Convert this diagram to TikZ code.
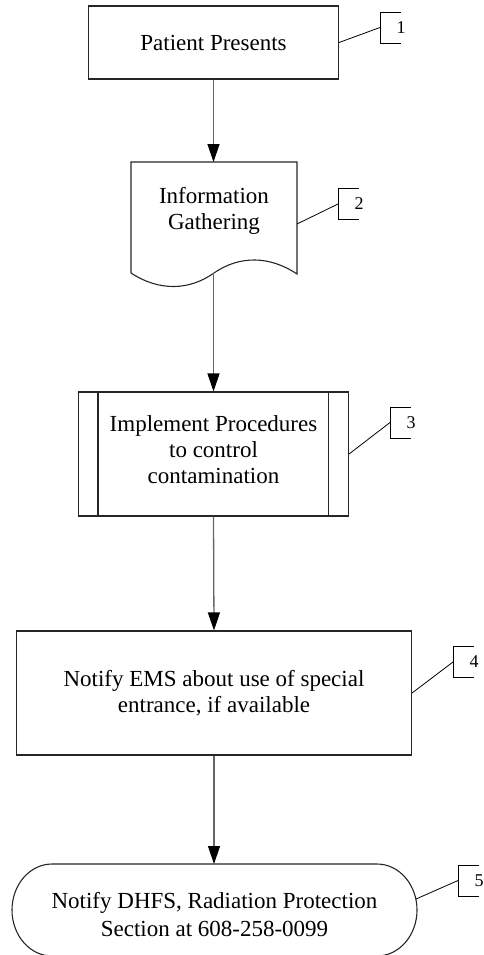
\documentclass[tikz,border=0pt]{standalone}
\usepackage{fontspec}
\setmainfont{Liberation Serif}
\usetikzlibrary{arrows.meta}
\newcommand\calltag[4]{%
  \coordinate (#1) at (#2,#3);
  \draw[tagline] ([shift={(21,-15.5)}]#1) -- ([shift={(0,-15.5)}]#1) -- ([shift={(0,15.5)}]#1) -- ([shift={(21,15.5)}]#1);
  \node[tagnum] (#1n) at ([shift={(21,0)}]#1) {#4};}
\begin{document}
\begin{tikzpicture}[x=1pt,y=-1pt,
  every node/.style={font=\fontsize{23}{26}\selectfont, align=center, inner sep=0pt},
  boxline/.style={draw=black!85, line width=1.1pt},
  conn/.style={draw=black!60, line width=1.3pt, -{Triangle[length=18pt,width=12pt,color=black]}},
  tagline/.style={draw=black, line width=0.8pt},
  tagnum/.style={font=\fontsize{18}{20}\selectfont}]
\useasboundingbox (0,0) rectangle (484,955);

% box 1
\node[boxline, minimum width=250pt, minimum height=73pt] (b1) at (213.5,42.5) {Patient Presents};

% box 2 (document)
\draw[boxline] (131,273) -- (131,162) -- (297,162) -- (297,274)
  .. controls (270,256) and (240,255) .. (214,273)
  .. controls (190,290) and (160,292) .. (131,273) -- cycle;
\node (b2) at (214,211) {Information\\Gathering};
\coordinate (b2top) at (213.5,162);
\coordinate (b2bot) at (213.5,273);
\coordinate (b2east) at (297,224);

% box 3 (predefined process)
\node[boxline, minimum width=270pt, minimum height=124pt] (b3) at (213.5,454) {};
\draw[boxline] ([xshift=20pt]b3.north west) -- ([xshift=20pt]b3.south west);
\draw[boxline] ([xshift=-21pt]b3.north east) -- ([xshift=-21pt]b3.south east);
\node (t3) at (213.5,450) {Implement Procedures\\to control\\contamination};

% box 4
\node[boxline, minimum width=395pt, minimum height=124pt] (b4) at (214,693) {Notify EMS about use of special\\entrance, if available};

% box 5 (terminator)
\draw[boxline] (52,864) -- (377,864) arc[start angle=-90, end angle=90, x radius=40, y radius=46]
  -- (52,956) arc[start angle=90, end angle=270, x radius=40, y radius=46] -- cycle;
\node (b5) at (214.5,915) {Notify DHFS, Radiation Protection\\[2pt]Section at 608-258-0099};
\coordinate (b5top) at (214,864);
\coordinate (b5east) at (416,899);

% connectors
\draw[conn] (b1.south) -- (b2top);
\draw[conn] (b2bot) -- (b3.north);
\draw[conn] (b3.south) -- (b4.north);
\draw[conn] (b4.south) -- (b5top);

% callout tags
\calltag{c1}{380}{27.5}{1}
\calltag{c2}{338}{204}{2}
\calltag{c3}{390}{422.5}{3}
\calltag{c4}{453}{662}{4}
\calltag{c5}{458}{880.5}{5}
\draw[tagline] (b1.east) -- (c1);
\draw[tagline] (b2east) -- (c2);
\draw[tagline] (b3.east) -- (c3);
\draw[tagline] (b4.east) -- (c4);
\draw[tagline] (b5east) -- (c5);
\end{tikzpicture}
\end{document}
